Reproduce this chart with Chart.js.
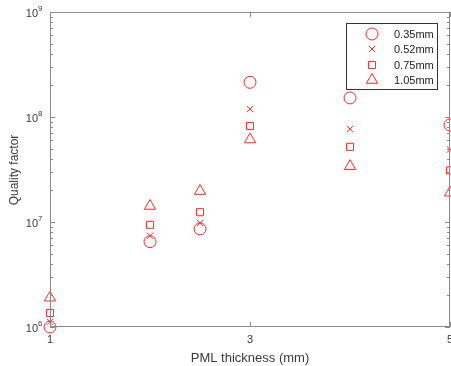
<!DOCTYPE html>
<html>
<head>
<meta charset="utf-8">
<script src="https://cdn.jsdelivr.net/npm/chart.js@4"></script>
<style>
html, body { margin: 0; padding: 0; background: #fff; }
#wrap { width: 451px; height: 366px; }
</style>
</head>
<body>
<div id="wrap"><canvas id="qChart"></canvas></div>
<script>
const pmlThickness = [1, 2, 2.5, 3, 4, 5];
const q035 = [1.0e6, 6.5e6, 8.6e6, 2.14e8, 1.52e8, 8.4e7];
const q052 = [1.12e6, 7.4e6, 9.8e6, 1.19e8, 7.7e7, 4.9e7];
const q075 = [1.36e6, 9.4e6, 1.24e7, 8.2e7, 5.2e7, 3.1e7];
const q105 = [1.9e6, 1.42e7, 1.97e7, 6.1e7, 3.4e7, 1.9e7];
const seriesLabels = ['0.35mm', '0.52mm', '0.75mm', '1.05mm'];
const xTicks = [1, 3, 5];
const yDecades = [6, 7, 8, 9];

const red = '#ff2a2a';
const axisGray = '#8a8a8a';
const textGray = '#3a3a3a';
const fontFam = '"Liberation Sans", Arial, sans-serif';

function toPoints(vals) {
    return pmlThickness.map((x, i) => ({ x: x, y: vals[i] }));
}

const styles = [
    { pointStyle: 'circle', radius: 6 },
    { pointStyle: 'crossRot', radius: 4.5 },
    { pointStyle: 'rect', radius: 5 },
    { pointStyle: 'triangle', radius: 6.5 }
];

const datasets = [q035, q052, q075, q105].map((vals, i) => ({
    label: seriesLabels[i],
    data: toPoints(vals),
    showLine: false,
    pointStyle: styles[i].pointStyle,
    pointRadius: styles[i].radius,
    pointHoverRadius: styles[i].radius,
    pointBorderColor: red,
    pointBackgroundColor: 'rgba(0,0,0,0)',
    pointBorderWidth: 1,
    clip: false
}));

// frame, inside ticks, tick labels, titles and legend
const decorPlugin = {
    id: 'decor',
    afterDraw(chart) {
        const ctx = chart.ctx;
        const a = chart.chartArea;
        const xs = chart.scales.x, ys = chart.scales.y;
        ctx.save();
        ctx.strokeStyle = axisGray;
        ctx.lineWidth = 1;
        ctx.strokeRect(a.left + 0.5, a.top + 0.5, a.right - a.left - 1, a.bottom - a.top - 1);

        ctx.beginPath();
        // y ticks, major and minor, both sides
        yDecades.forEach((k, idx) => {
            const yy = Math.round(ys.getPixelForValue(Math.pow(10, k))) + 0.5;
            ctx.moveTo(a.left, yy); ctx.lineTo(a.left + 5, yy);
            ctx.moveTo(a.right, yy); ctx.lineTo(a.right - 5, yy);
            if (idx < yDecades.length - 1) {
                for (let m = 2; m <= 9; m++) {
                    const ym = Math.round(ys.getPixelForValue(m * Math.pow(10, k))) + 0.5;
                    ctx.moveTo(a.left, ym); ctx.lineTo(a.left + 3, ym);
                    ctx.moveTo(a.right, ym); ctx.lineTo(a.right - 3, ym);
                }
            }
        });
        xTicks.forEach(v => {
            const xx = Math.round(xs.getPixelForValue(v)) + 0.5;
            ctx.moveTo(xx, a.bottom); ctx.lineTo(xx, a.bottom - 5);
            ctx.moveTo(xx, a.top); ctx.lineTo(xx, a.top + 5);
        });
        ctx.stroke();

        // tick labels
        ctx.fillStyle = textGray;
        ctx.textBaseline = 'middle';
        yDecades.forEach(k => {
            const yy = ys.getPixelForValue(Math.pow(10, k));
            ctx.font = '11px ' + fontFam;
            ctx.textAlign = 'right';
            ctx.fillText('10', 38, yy + 2);
            ctx.font = '8px ' + fontFam;
            ctx.textAlign = 'left';
            ctx.fillText(String(k), 38, yy - 3);
        });
        ctx.font = '11px ' + fontFam;
        ctx.textAlign = 'center';
        xTicks.forEach(v => {
            ctx.fillText(String(v), xs.getPixelForValue(v), 340);
        });

        // axis titles
        ctx.font = '13px ' + fontFam;
        ctx.fillText('PML thickness (mm)', (a.left + a.right) / 2, 358);
        ctx.save();
        ctx.translate(15, 170);
        ctx.rotate(-Math.PI / 2);
        ctx.font = '12px ' + fontFam;
        ctx.fillText('Quality factor', 0, 0);
        ctx.restore();

        // legend
        ctx.fillStyle = '#fff';
        ctx.fillRect(346, 23, 91, 66);
        ctx.strokeStyle = '#333';
        ctx.strokeRect(346.5, 23.5, 91, 66);
        const rowY = [34, 49, 65, 80];
        chart.data.datasets.forEach((ds, i) => {
            ctx.strokeStyle = red;
            ctx.fillStyle = 'rgba(0,0,0,0)';
            ctx.lineWidth = 1;
            Chart.helpers.drawPoint(ctx, {
                pointStyle: ds.pointStyle, radius: ds.pointRadius, rotation: 0, borderWidth: 1
            }, 372, rowY[i]);
            ctx.fillStyle = '#222';
            ctx.font = '11px ' + fontFam;
            ctx.textAlign = 'left';
            ctx.fillText(ds.label, 394, rowY[i] + 1);
        });
        ctx.restore();
    }
};

new Chart(document.getElementById('qChart').getContext('2d'), {
    type: 'scatter',
    data: { datasets: datasets },
    options: {
        responsive: true,
        maintainAspectRatio: false,
        animation: false,
        layout: { autoPadding: false, padding: { top: 12, right: 1, left: 0, bottom: 0 } },
        plugins: { legend: { display: false }, tooltip: { enabled: false } },
        scales: {
            x: {
                type: 'linear', min: 1, max: 5,
                grid: { display: false }, border: { display: false },
                ticks: { display: false },
                afterFit: s => { s.height = 39; s.paddingLeft = 0; s.paddingRight = 0; }
            },
            y: {
                type: 'logarithmic', min: 1e6, max: 1e9,
                grid: { display: false }, border: { display: false },
                ticks: { display: false },
                afterFit: s => { s.width = 50; s.paddingTop = 0; s.paddingBottom = 0; }
            }
        }
    },
    plugins: [decorPlugin]
});
</script>
</body>
</html>
